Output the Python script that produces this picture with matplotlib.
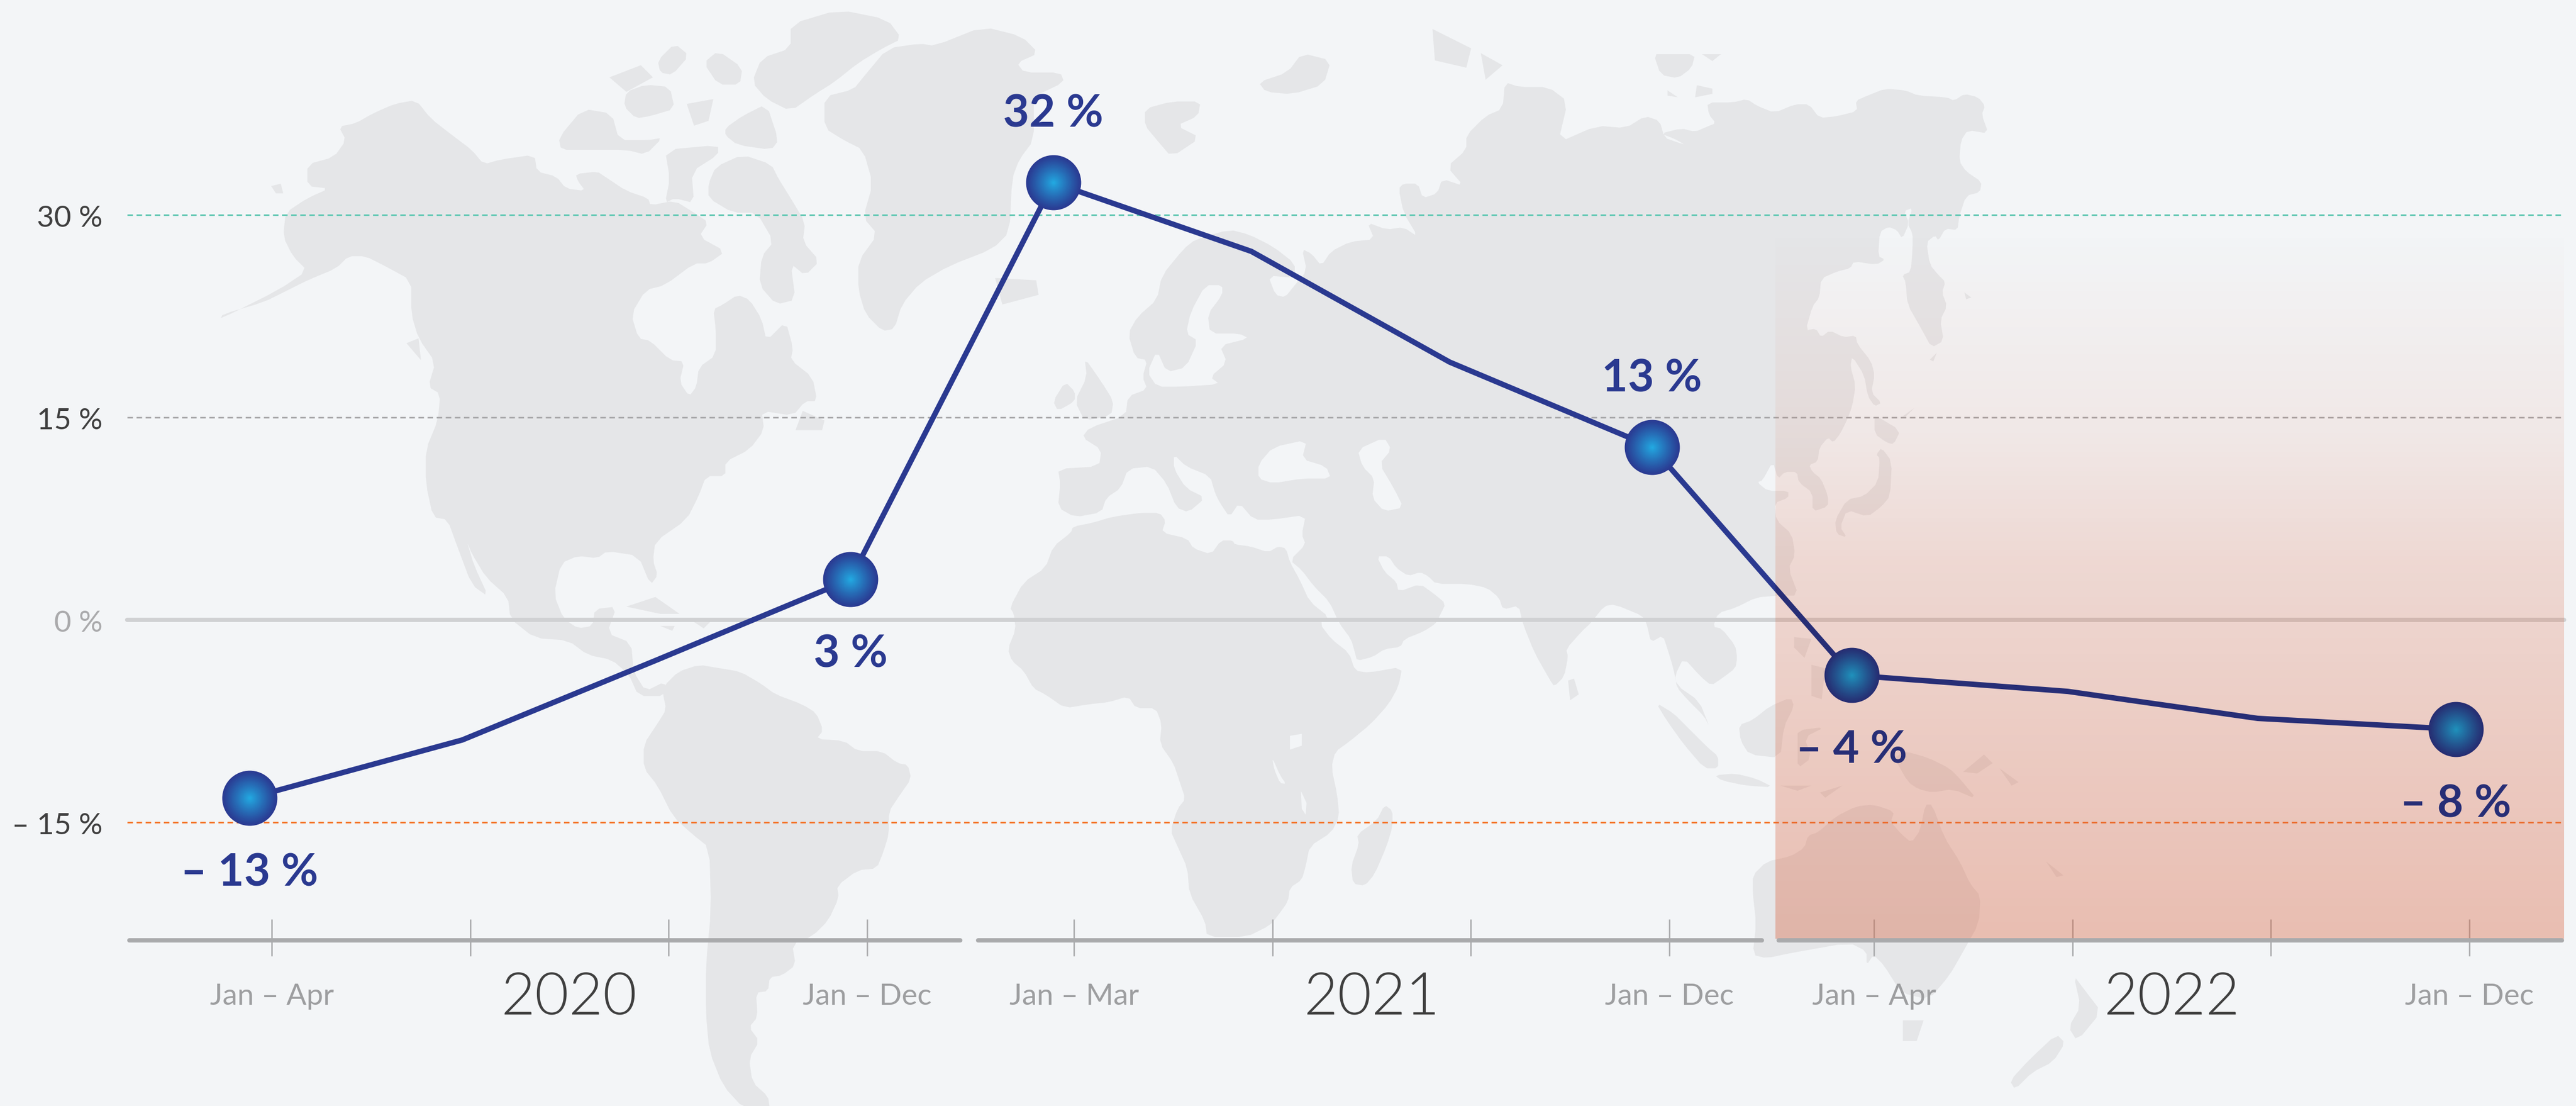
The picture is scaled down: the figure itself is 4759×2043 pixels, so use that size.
import numpy as np
import matplotlib
matplotlib.use("Agg")
import matplotlib.pyplot as plt
from matplotlib.patches import Polygon, Rectangle
from matplotlib.colors import to_rgb

# ---------- data ----------
years = ["2020", "2021", "2022"]
tick_labels_by_year = [["Jan – Apr", "Jan – Dec"], ["Jan – Mar", "Jan – Dec"], ["Jan – Apr", "Jan – Dec"]]
y_ticks = [30, 15, 0, -15]
y_tick_labels = ["30 %", "15 %", "0 %", "– 15 %"]
period_x = [-0.112, 0.96, 1.936, 2.916, 3.939, 4.937, 5.936, 6.956, 7.962, 9.051, 10.008, 11.006]
growth = [-13.2, -8.9, -3.0, 3.0, 32.4, 27.3, 19.1, 12.8, -4.1, -5.3, -7.3, -8.1]
labelled_idx = [0, 3, 4, 7, 8, 11]
labelled_text = ["– 13 %", "3 %", "32 %", "13 %", "– 4 %", "– 8 %"]
labelled_side = [-1, -1, 1, 1, -1, -1]
year_offset = [0.0, 4.043, 8.075]

# ---------- layout ----------
W, H = 4759, 2043
BG = "#f3f5f7"; LAND = "#e5e6e8"
FONT = "Lato"
TICK0, UNIT = 502.0, 366.6
Y0, PXPCT = 1145.0, 24.93
def xu(px): return (px - TICK0) / UNIT
def yu(py): return (Y0 - py) / PXPCT

fig = plt.figure(figsize=(W / 100, H / 100), dpi=100, facecolor=BG)
bg = fig.add_axes([0, 0, 1, 1], zorder=0); bg.set_xlim(0, W); bg.set_ylim(H, 0); bg.axis("off")
ax = fig.add_axes([0, 0, 1, 1], zorder=1); ax.patch.set_alpha(0); ax.axis("off")
ax.set_xlim(xu(0), xu(W)); ax.set_ylim(yu(H), yu(0))

# ---------- backdrop world map (traced outline, decoration) ----------
def Z4(p): return [(300 + x / 1.12, y / 1.12) for x, y in p]
def Z5(p): return [(1700 + x / 1.12, y / 1.12) for x, y in p]
def Z6(p): return [(2800 + x / 1.568, 100 + y / 1.568) for x, y in p]
def Z7(p): return [(1100 + x / 1.568, 1043 + y / 1.568) for x, y in p]
def Z8(p): return [(1800 + x / 1.372, 900 + y / 1.372) for x, y in p]
def Z9(p): return [(2900 + x / 1.568, 1043 + y / 1.568) for x, y in p]

land = [
 Z4([(365,262),(400,255),(435,235),(480,215),(525,207),(555,245),(600,280),(640,310),(665,340),(700,330),(770,320),(775,355),(815,365),(835,390),(875,395),(860,375),(855,360),(900,355),(915,365),(960,395),(1005,410),(1010,425),(1060,415),(1100,440),(1130,460),(1110,490),(1165,520),(1130,545),(1100,545),(1040,590),(1000,600),(970,650),(985,700),(1010,705),(1050,745),(1080,748),(1070,790),(1090,820),(1105,800),(1110,760),(1145,735),(1145,680),(1140,640),(1160,630),(1190,610),(1215,620),(1240,660),(1250,705),(1290,665),(1305,720),(1300,745),(1345,780),(1355,830),(1330,830),(1305,860),(1240,850),(1245,890),(1215,930),(1165,955),(1165,985),(1125,985),(1110,1025),(1085,1075),(1020,1120),(1015,1160),(1025,1190),(1010,1210),(985,1150),(920,1140),(900,1155),(860,1150),(825,1165),(810,1230),(830,1280),(860,1300),(890,1295),(895,1260),(940,1255),(920,1310),(970,1330),(975,1390),(1000,1430),(1040,1410),(1040,1440),(985,1440),(965,1395),(930,1365),(880,1355),(840,1325),(770,1320),(720,1280),(715,1235),(670,1195),(640,1145),(630,1120),(645,1170),(675,1235),(640,1210),(610,1130),(590,1075),(560,1070),(545,1000),(545,930),(570,870),(575,815),(550,800),(565,750),(530,700),(515,650),(515,580),(460,550),(420,530),(385,530),(360,555),(300,580),(260,600),(210,625),(125,650),(120,660),(240,600),(300,560),(270,530),(250,490),(255,440),(300,410),(345,390),(300,385),(300,340),(355,325),(380,290)]),
 Z4([(1300,50),(1400,20),(1500,40),(1530,80),(1490,100),(1440,130),(1390,170),(1350,195),(1300,230),(1250,205),(1220,170),(1240,120),(1300,100)]),
 Z4([(1500,100),(1568,90)]) + Z5([(30,95),(130,55),(210,75),(245,110),(200,130),(215,150),(290,150),(298,170),(235,200),(235,290),(205,330),(190,370),(185,480),(150,515),(60,550),(0,585)]) + Z4([(1530,630),(1515,680),(1490,685),(1455,650),(1440,600),(1440,540),(1480,485),(1450,450),(1470,380),(1450,310),(1410,290),(1370,265),(1370,200),(1430,185),(1450,160)]),
 Z4([(820,285),(870,225),(930,235),(945,290),(1005,290),(1035,285),(1000,320),(960,310),(880,310),(825,310)]),
 Z4([(1040,310),(1150,300),(1150,320),(1095,355),(1100,420),(1060,410),(1040,420),(1050,370)]),
 Z4([(1145,345),(1200,320),(1260,340),(1275,370),(1300,410),(1330,460),(1325,500),(1360,540),(1330,570),(1300,545),(1310,620),(1270,630),(1235,590),(1240,530),(1265,500),(1230,440),(1180,440),(1130,410),(1130,380)]),
 Z4([(1165,265),(1200,240),(1250,215),(1275,290),(1260,310),(1190,300),(1165,280)]),
 Z4([(925,160),(990,135),(1015,160),(960,190)]), Z4([(1025,125),(1060,90),(1090,115),(1055,155),(1030,150)]),
 Z4([(960,190),(1000,175),(1050,180),(1060,225),(1010,240),(980,245),(955,220)]),
 Z4([(1120,130),(1150,105),(1200,140),(1195,175),(1150,175)]), Z4([(1085,215),(1140,205),(1130,250),(1100,260)]),
 Z4([(1310,890),(1325,850),(1370,870),(1365,890)]), Z4([(505,710),(530,700),(535,745)]),
 Z4([(960,1255),(1020,1235),(1070,1270),(1030,1270)]), Z4([(1090,1280),(1140,1280),(1120,1300)]), Z4([(1030,1295),(1060,1295),(1055,1305)]),
 Z4([(225,385),(245,380),(250,400),(235,400)]),
 # Eurasia
 Z5([(285,970),(370,965),(375,930),(335,905),(350,885),(425,860),(430,820),(470,805),(460,780),(470,745),(445,740),(430,690),(450,655),(490,620),(500,570),(545,515),(570,495),(640,475),(680,485),(730,510),(775,545),(775,575),(720,570),(735,610),(755,615),(775,590),(800,560),(790,515),(810,525),(830,550),(850,520),(890,500),(940,495),(925,460),(965,475),(1000,470),(1030,490),(1000,440),(990,390),(1000,380),(1030,380),(1040,410),(1070,400),(1080,370),(1125,385),(1090,345),(1130,310),(1130,280),(1170,240),(1205,225),(1210,170),(1240,180),(1300,180),(1340,210),(1320,295),(1400,260),(1460,265),(1500,240),(1530,250),(1540,285),(1568,295)])
 + Z6([(490,262),(460,245),(420,230),(480,215),(520,225),(555,210),(580,200),(560,175),(555,140),(630,140),(670,130),(700,150),(750,170),(810,145),(850,145),(880,185),(930,180),(990,165),(985,135),(1020,120),(1070,100),(1130,105),(1165,120),(1250,125),(1270,135),(1300,115),(1340,125),(1360,150),(1350,175),(1370,230),(1310,220),(1290,250),(1285,310),(1305,340),(1350,370),(1345,400),(1305,410),(1285,470),(1280,510),(1245,505),(1225,540),(1215,525),(1190,545),(1200,610),(1225,640),(1245,660),(1235,690),(1250,730),(1230,770),(1240,830),(1205,850),(1175,795),(1135,725),(1130,660),(1120,640),(1145,630),(1150,560),(1150,520),(1135,490),(1150,445),(1125,455),(1140,490),(1120,535),(1105,510),(1080,500),(1055,515),(1050,585),(1070,595),(1045,610),(980,600),(970,620),(930,630),(885,650),(880,705),(860,730),(840,800),(870,795),(885,820),(910,800),(950,820),(985,815),(990,840),(1030,890),(1040,930),(1030,980),(1060,1010),(1040,1020),(1020,990),(1010,930),(975,875),(970,905),(985,960),(975,1020),(960,1060),(940,1100),(920,1125),(905,1110),(880,1140),(875,1180),(850,1190),(860,1210),(885,1230),(905,1280),(905,1310),(860,1325),(860,1270),(820,1240),(815,1210),(780,1210),(760,1230),(745,1180),(715,1235),(700,1240),(730,1265),(790,1265),(790,1285),(750,1300),(755,1350),(800,1390),(810,1450),(790,1490),(820,1568)])
 + Z9([(600,90),(540,95),(480,125),(430,140),(415,180),(440,185),(480,235),(485,270),(480,300),(440,330),(410,350),(380,325),(330,270),(305,320),(310,355),(340,390),(390,440),(405,470),(375,395),(310,350),(300,300),(285,250),(270,205),(235,225),(225,180),(215,150),(130,115),(100,120),(60,170)])
 + Z8([(1540,365),(1500,410),(1505,430),(1495,480),(1470,505),(1460,490),(1420,420),(1390,345),(1380,300),(1340,310),(1330,280),(1300,255),(1250,245),(1170,245),(1150,225),(1130,215),(1100,225),(1070,205),(1050,175),(1020,175),(1040,215),(1070,240),(1075,265),(1130,245),(1165,270),(1195,295),(1180,325),(1170,345),(1140,365),(1090,385),(1080,405),(1040,410),(1010,430),(970,440),(965,420),(955,385),(925,345),(900,290),(860,250),(830,210),(800,185),(840,145),(830,120),(840,70)])
 + Z5([(730,1075),(690,1075),(660,1040),(640,1070),(620,1040),(610,1020),(600,985),(550,965),(525,940),(525,970),(550,1010),(590,1030),(555,1060),(530,1050),(510,1000),(480,965),(430,970),(415,1010),(385,1030),(375,1060),(320,1070),(285,1050),(290,1000)]),
 Z5([(700,170),(760,150),(790,110),(850,125),(835,175),(770,195),(715,190)]),
 Z5([(465,225),(520,210),(580,210),(575,240),(530,260),(580,285),(520,325),(490,290),(465,260)]),
 Z5([(1060,60),(1140,100),(1130,140),(1065,125)]), Z5([(1160,110),(1205,135),(1170,165)]),
 Z5([(155,575),(240,580),(245,610),(170,630)]),
 Z5([(340,740),(375,790),(400,830),(395,860),(340,870),(320,830),(345,780)]),
 Z5([(275,830),(300,790),(320,810),(320,830),(285,850)]),
 Z6([(400,0),(440,0),(520,0),(510,40),(470,70),(420,60)]), Z6([(540,0),(595,0),(570,20)]),
 Z6([(525,90),(570,100),(570,115),(520,125)]), Z6([(440,105),(470,125),(440,120)]),
 Z6([(1300,690),(1320,705),(1305,710)]),
 # Japan-like arc
 Z6([(1040,1045),(1115,1090),(1095,1130),(1075,1125),(1040,1100)]),
 Z6([(1060,1140),(1090,1180),(1085,1280),(1060,1310),(1020,1340),(960,1320),(940,1370),(960,1400),(930,1390),(925,1350),(960,1290),(1010,1280),(1050,1240),(1055,1170),(1045,1160)]),
 Z6([(1120,1050),(1155,1025),(1130,1050)]), Z6([(1200,885),(1220,865),(1210,890)]),
 # Africa and islands
 Z8([(250,100),(300,90),(350,75),(420,65),(470,65),(485,85),(475,115),(540,130),(555,155),(600,170),(625,135),(655,135),(660,145),(700,150),(745,165),(770,150),(790,155),(800,190),(825,235),(850,290),(900,330),(875,345),(905,385),(950,420),(965,465),(1000,470),(1085,455),(1075,505),(1050,550),(1005,600),(950,645),(915,670),(905,710),(920,780),(925,835),(905,875),(850,910),(840,960),(830,995),(800,1015),(795,1050),(770,1085),(750,1110),(690,1140),(590,1140),(585,1100),(545,1030),(540,965),(515,910),(497,870),(515,815),(535,790),(520,745),(505,700),(470,650),(475,600),(460,560),(410,560),(390,530),(340,545),(290,550),(230,560),(180,525),(150,510),(125,465),(95,440),(85,410),(105,360),(100,320),(90,305),(125,240),(180,205),(200,150),(245,115)]),
 Z8([(1040,805),(1060,820),(1060,860),(1045,910),(1015,980),(990,1010),(960,1005),(955,960),(975,905),(970,880),(1020,845)]),
 Z8([(1505,490),(1520,485),(1532,525),(1510,540)]),
 # South America
 Z7([(200,350),(240,310),(300,290),(360,300),(420,310),(480,345),(520,375),(600,405),(640,430),(660,480),(640,505),(720,510),(760,540),(830,540),(875,575),(905,580),(915,620),(880,670),(850,715),(850,780),(835,830),(815,880),(760,885),(700,930),(705,965),(675,1030),(630,1075),(570,1100),(580,1160),(540,1190),(505,1195),(500,1235),(465,1240),(470,1310),(445,1340),(475,1380),(445,1430),(455,1500),(500,1540),(505,1575),(430,1575),(370,1510),(330,1410),(320,1300),(320,1160),(335,1000),(330,820),(280,780),(225,730),(180,640),(140,590),(140,520),(180,460),(205,420),(195,370)]),
 # Australasia
 Z9([(530,900),(570,860),(640,845),(680,820),(690,785),(720,775),(770,730),(830,700),(880,695),(940,715),(930,745),(960,780),(990,805),(1015,770),(1030,695),(1050,695),(1085,790),(1130,860),(1160,925),(1190,960),(1185,1040),(1140,1120),(1100,1190),(1040,1260),(960,1240),(910,1160),(880,1130),(860,1160),(860,1120),(810,1095),(640,1125),(570,1140),(530,1130),(540,1040),(530,950)]),
 Z9([(965,1320),(1025,1320),(1005,1380),(965,1380)]),
 Z9([(1460,1190),(1490,1230),(1540,1295),(1470,1380),(1445,1340),(1480,1280)]),
 Z9([(1410,1360),(1435,1385),(1400,1440),(1340,1470),(1290,1520),(1275,1495),(1330,1435)]),
 Z9([(970,540),(1040,560),(1100,590),(1130,620),(1180,680),(1110,650),(1050,660),(1010,650),(980,630),(940,560)]),
 Z9([(490,465),(530,450),(580,410),(640,385),(650,410),(620,470),(610,560),(520,550),(495,510)]),
 Z9([(250,400),(300,430),(340,470),(400,530),(430,555),(430,590),(390,590),(330,520),(280,450)]),
 Z9([(420,610),(480,605),(540,620),(590,645),(510,640),(440,625)]),
 Z9([(660,480),(740,470),(680,500),(700,560),(660,590),(660,520)]),
 Z9([(650,210),(700,215),(680,270),(650,240)]), Z9([(700,290),(740,300),(730,390),(700,380)]),
 Z9([(610,640),(700,640),(660,655)]), Z9([(725,660),(790,640),(740,675)]),
 Z9([(1140,600),(1200,550),(1225,575),(1180,605)]), Z9([(1245,590),(1300,630),(1280,640)]),
 Z9([(1380,860),(1430,900),(1410,905)]),
]
water = [
 Z5([(700,960),(730,925),(800,910),(790,950),(840,965),(850,990),(790,990),(730,1000),(700,990)]),
 Z5([(905,930),(960,905),(975,930),(950,960),(980,1010),(1000,1050),(960,1058),(935,1030),(940,990),(915,965)]),
 Z5([(590,590),(625,590),(625,610),(595,650),(600,690),(660,690),(680,700),(620,715),(635,750),(600,780),(620,795),(540,800),(490,800),(470,770),(490,725),(510,770),(550,760),(575,705),(550,690),(560,645)]),
 Z4([(1200,460),(1240,480),(1225,510),(1210,495)]),
 Z8([(800,630),(830,625),(830,655),(800,665)]), Z8([(755,685),(775,730),(790,752),(775,750),(760,715)]), Z8([(828,770),(842,800),(840,830),(830,815)]),
]
def smooth(pts, n=1):
    p = np.asarray(pts, float)
    if len(p) < 5:
        return p
    for _ in range(n):
        q = np.roll(p, -1, axis=0)
        p = np.column_stack([0.8 * p + 0.2 * q, 0.2 * p + 0.8 * q]).reshape(-1, 2)
    return p
for poly in land:
    bg.add_patch(Polygon(smooth(poly), closed=True, fc=LAND, ec="none"))
for poly in water:
    bg.add_patch(Polygon(smooth(poly), closed=True, fc=BG, ec="none"))

# ---------- grid lines ----------
xa, xb = xu(235), xu(4737)
px = 0.72  # points per reference pixel
ax.plot([xa, xb], [0, 0], color="#d0d1d3", lw=8 * px, solid_capstyle="round", zorder=2)
for val, col in zip([30, 15, -15], ["#66c9b5", "#a9a9ab", "#f4742a"]):
    ax.plot([xa, xb], [val, val], color=col, lw=3 * px, dashes=(3.4, 2.2), zorder=2)

# ---------- x axis ticks ----------
tick_y0, tick_y1 = yu(1698), yu(1766)
for off in year_offset:
    t = np.arange(4) + off
    ax.vlines(t, tick_y1, tick_y0, color="#a9aaac", lw=2.6 * px, zorder=2)

# ---------- 2022 highlight band ----------
band_y = np.linspace(420, 1734, 256)
alpha = np.interp(band_y, [420, 800, 1043, 1734], [0.0, 0.09, 0.2, 0.38])
rgba = np.ones((256, 1, 4))
rgba[:, 0, :3] = (0.855, 0.39, 0.25)
rgba[:, 0, 3] = alpha
band_x0 = xu(3280)
ax.imshow(rgba, extent=[band_x0, xb, yu(1734), yu(420)], origin="upper", aspect="auto",
          interpolation="bilinear", zorder=3)
ax.set_xlim(xu(0), xu(W)); ax.set_ylim(yu(H), yu(0))

# axis segments over the band
segs = [(235, 1778), (1803, 3259), (3282, 4737)]
for a, b in segs:
    ax.plot([xu(a + 4), xu(b - 4)], [yu(1737)] * 2, color="#a9aaac", lw=8 * px, solid_capstyle="round", zorder=4)

# ---------- line ----------
NAVY = "#2a3990"; NAVY2 = "#272e76"
l1, = ax.plot(period_x, growth, color=NAVY, lw=10 * px, solid_joinstyle="round", zorder=5)
l1.set_clip_path(Rectangle((xu(0), yu(H)), band_x0 - xu(0), yu(0) - yu(H), transform=ax.transData))
l2, = ax.plot(period_x, growth, color=NAVY2, lw=10 * px, solid_joinstyle="round", zorder=5)
l2.set_clip_path(Rectangle((band_x0, yu(H)), xu(W) - band_x0, yu(0) - yu(H), transform=ax.transData))

# ---------- gradient markers ----------
def blend(c0, c1, f):
    a, b = np.array(to_rgb(c0)), np.array(to_rgb(c1))
    return a + (b - a) * f
R = 50.5
for idx, txt, side in zip(labelled_idx, labelled_text, labelled_side):
    dark = idx >= 8
    outer, inner = ("#262d72", "#1f92bc") if dark else ("#2a3a92", "#22aae2")
    for k, f in enumerate(np.linspace(0, 1, 60)):
        r = R * (1 - f) + 0.4
        col = blend(outer, inner, min(1.0, f ** 1.1))
        ax.scatter([period_x[idx]], [growth[idx]], s=(2 * r * px) ** 2, color=[col], linewidths=0, zorder=6 + k * 0.001)
    offset = 102.5 if side > 0 else -162.5
    ax.annotate(txt, (period_x[idx], growth[idx]), xytext=(0, offset * px), textcoords="offset points",
                ha="center", va="baseline", fontsize=60, family=FONT, fontweight=700,
                color=NAVY2 if dark else NAVY, zorder=7)

# ---------- labels ----------
for val, lab in zip(y_ticks, y_tick_labels):
    ax.text(xu(190), val - 22 / PXPCT, lab, ha="right", va="baseline", fontsize=39.5, family=FONT, fontweight=400,
            color="#aaaaac" if val == 0 else "#3f3f3f", zorder=7)
for off, name, labs in zip(year_offset, years, tick_labels_by_year):
    ax.text(off + 1.5, yu(1873), name, ha="center", va="baseline", fontsize=78, family=FONT, fontweight=300,
            color="#3f3f3f", zorder=7)
    for t, lab in zip([off, off + 3], labs):
        ax.text(t, yu(1856), lab, ha="center", va="baseline", fontsize=39.5, family=FONT, fontweight=400,
                color="#9d9ea0", zorder=7)

fig.savefig("out.png", dpi=100, facecolor=BG)
